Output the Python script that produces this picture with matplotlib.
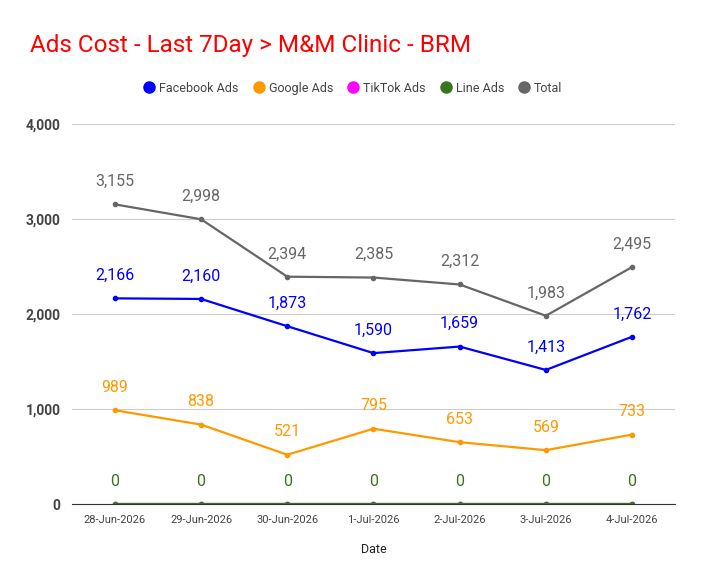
import matplotlib
matplotlib.use("Agg")
import matplotlib.pyplot as plt
from matplotlib.lines import Line2D

dates = ["28-Jun-2026","29-Jun-2026","30-Jun-2026","1-Jul-2026","2-Jul-2026","3-Jul-2026","4-Jul-2026"]
facebook = [2166,2160,1873,1590,1659,1413,1762]
google = [989,838,521,795,653,569,733]
tiktok = [0,0,0,0,0,0,0]
line_ads = [0,0,0,0,0,0,0]
total = [3155,2998,2394,2385,2312,1983,2495]

plt.rcParams['font.family'] = ['Roboto', 'DejaVu Sans']
fig = plt.figure(figsize=(7.04,5.85), dpi=100)
ax = fig.add_axes([0.102,0.138,0.857,0.65])
x = list(range(len(dates)))
series = [("Facebook Ads",facebook,"#0000ff"),("Google Ads",google,"#ff9900"),
          ("TikTok Ads",tiktok,"#ff00ff"),("Line Ads",line_ads,"#38761d"),("Total",total,"#666666")]
for name, vals, c in series:
    ax.plot(x, vals, color=c, lw=1.6, marker='o', ms=3)
    if name == "TikTok Ads":
        continue
    for xi, v in zip(x, vals):
        ax.annotate(f"{v:,}", (xi, v), xytext=(0,11), textcoords='offset points',
                    ha='center', va='bottom', color=c, fontsize=11.5)
ax.set_xlim(-0.5, 6.5)
ax.set_ylim(0, 4000)
ax.set_yticks([0,1000,2000,3000,4000])
ax.set_yticklabels([f"{v:,}" for v in [0,1000,2000,3000,4000]], fontsize=10, color='#444444', fontweight='bold')
ax.set_xticks(x)
ax.set_xticklabels(dates, fontsize=8, color='#444444')
ax.grid(axis='y', color='#cccccc', lw=0.8)
ax.set_axisbelow(True)
for s in ['top','right','left']:
    ax.spines[s].set_visible(False)
ax.spines['bottom'].set_color('#333333')
ax.tick_params(length=0, pad=8)
ax.set_xlabel("Date", fontsize=9, color='#222222', labelpad=13)
fig.text(0.043, 0.922, "Ads Cost - Last 7Day > M&M Clinic - BRM", color='#ff0000', fontsize=17.5, va='center')
handles = [Line2D([],[],marker='o',ls='',color=c,ms=8) for _,_,c in series]
fig.legend(handles, [n for n,_,_ in series], loc='center', bbox_to_anchor=(0.5,0.849), ncol=5,
           frameon=False, fontsize=9, handletextpad=0.2, columnspacing=1.0, handlelength=1.2,
           labelcolor='#444444')
fig.savefig("out.png", dpi=100)
